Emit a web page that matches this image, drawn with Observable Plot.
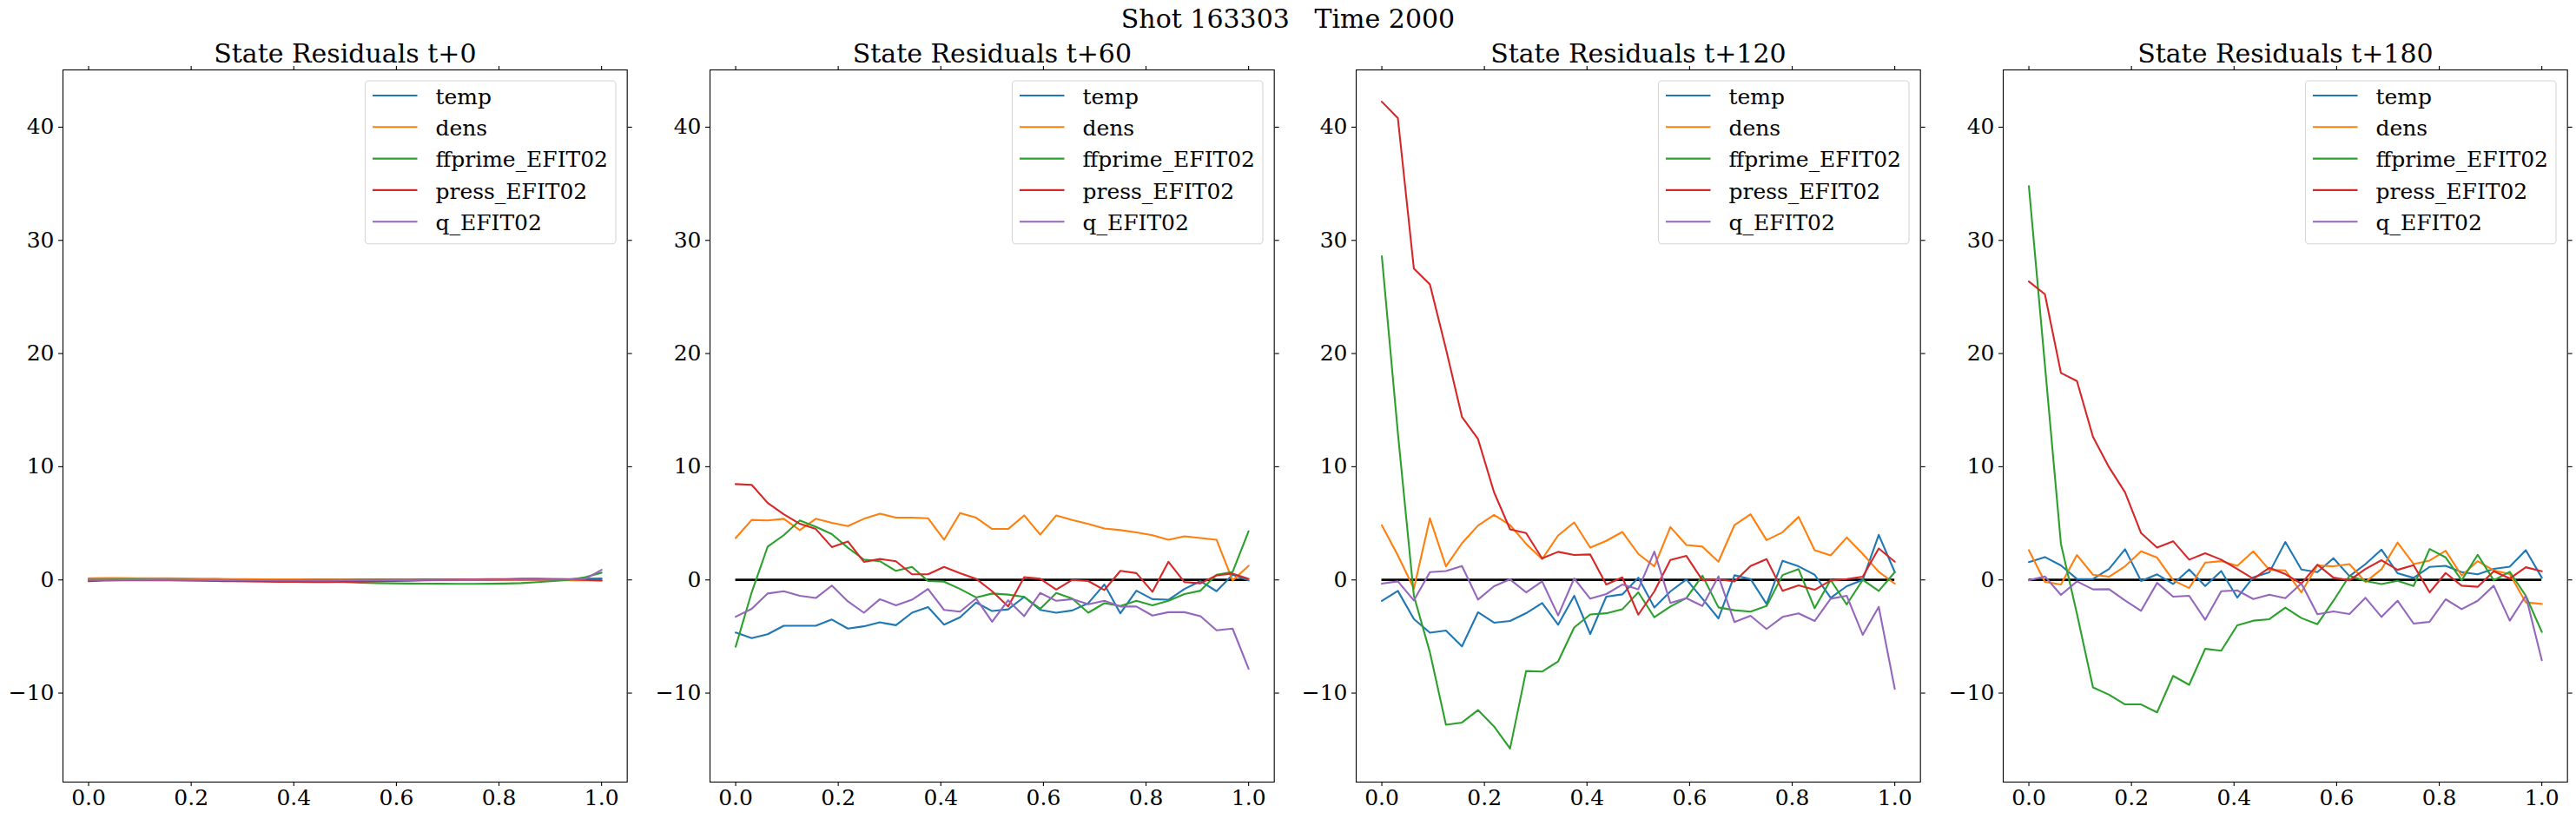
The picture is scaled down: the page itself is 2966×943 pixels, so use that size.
<!DOCTYPE html>
<html><head><meta charset="utf-8">
<script src="https://cdn.jsdelivr.net/npm/d3@7"></script>
<script src="https://cdn.jsdelivr.net/npm/@observablehq/plot@0.6"></script>
<style>
body{margin:0;background:#fff;}
#fig{position:relative;width:2966px;height:943px;overflow:hidden;background:#fff;font-family:"DejaVu Serif",serif;}
#sup{position:absolute;left:0;width:2966px;top:7px;text-align:center;font-size:30px;line-height:30px;white-space:pre;color:#000;z-index:5;}
.panel{position:absolute;top:0;}
</style></head><body>
<div id="fig"><div id="sup">Shot 163303   Time 2000</div></div>
<script>
const rho = [0,0.03125,0.0625,0.09375,0.125,0.15625,0.1875,0.21875,0.25,0.28125,0.3125,0.34375,0.375,0.40625,0.4375,0.46875,0.5,0.53125,0.5625,0.59375,0.625,0.65625,0.6875,0.71875,0.75,0.78125,0.8125,0.84375,0.875,0.90625,0.9375,0.96875,1];
const names = ["temp","dens","ffprime_EFIT02","press_EFIT02","q_EFIT02"];
const colors = ["#1f77b4","#ff7f0e","#2ca02c","#d62728","#9467bd"];
const titles = ["State Residuals t+0","State Residuals t+60","State Residuals t+120","State Residuals t+180"];
const xTicks = [0,0.2,0.4,0.6,0.8,1.0];
const yTicks = [-10,0,10,20,30,40];

const t0_temp = [0.05,0.06,0.06,0.05,0.05,0.05,0.04,0.03,0.04,0.03,0.02,0.02,0.02,0.01,0.01,0.02,0.03,0.03,0.02,0.01,0.01,0.0,0.01,0.02,0.03,0.04,0.05,0.05,0.06,0.07,0.08,0.1,0.12];
const t0_dens = [0.15,0.16,0.16,0.15,0.15,0.14,0.12,0.1,0.1,0.08,0.07,0.06,0.05,0.05,0.04,0.03,0.03,0.02,0.02,0.02,0.01,0.0,0.0,0.0,0.0,0.0,-0.01,-0.02,-0.02,-0.03,-0.03,-0.04,-0.05];
const t0_ffprime = [0.0,0.02,0.03,0.03,0.02,0.01,0.0,-0.02,-0.03,-0.04,-0.05,-0.06,-0.08,-0.1,-0.12,-0.15,-0.2,-0.25,-0.28,-0.3,-0.32,-0.33,-0.34,-0.35,-0.35,-0.34,-0.32,-0.28,-0.2,-0.1,0.02,0.25,0.64];
const t0_press = [-0.12,-0.05,-0.04,-0.03,-0.03,-0.04,-0.06,-0.08,-0.1,-0.12,-0.14,-0.16,-0.17,-0.18,-0.2,-0.2,-0.18,-0.15,-0.12,-0.1,-0.07,-0.04,-0.01,0.02,0.05,0.07,0.08,0.1,0.1,0.08,0.05,0.0,-0.05];
const t0_q = [0.0,0.0,0.0,0.0,0.01,0.01,0.0,0.0,-0.01,-0.01,-0.02,-0.02,-0.03,-0.03,-0.03,-0.03,-0.02,-0.02,-0.02,-0.01,-0.01,0.0,0.0,0.0,0.01,0.02,0.02,0.03,0.03,0.04,0.05,0.1,0.89];

const t60_temp = [-4.65,-5.15,-4.8,-4.05,-4.05,-4.05,-3.5,-4.3,-4.1,-3.75,-4.0,-2.9,-2.4,-3.95,-3.3,-2.0,-2.75,-2.6,-1.5,-2.65,-2.9,-2.7,-2.05,-0.4,-2.95,-0.95,-1.7,-1.75,-0.8,-0.1,-1.0,0.45,-0.05];
const t60_dens = [3.7,5.3,5.25,5.4,4.4,5.4,5.05,4.75,5.4,5.85,5.5,5.5,5.45,3.55,5.9,5.5,4.5,4.5,5.7,4.0,5.7,5.3,4.95,4.55,4.4,4.2,3.95,3.55,3.85,3.7,3.55,-0.05,1.25];
const t60_ffprime = [-5.9,-1.1,2.95,3.95,5.25,4.7,4.05,2.85,1.8,1.65,0.8,1.15,-0.1,-0.15,-0.8,-1.55,-1.2,-1.3,-1.5,-2.55,-1.15,-1.65,-2.9,-2.05,-2.3,-1.85,-2.25,-1.85,-1.25,-0.95,0.45,0.7,4.3];
const t60_press = [8.47,8.4,6.8,5.8,4.96,4.5,2.9,3.4,1.6,1.85,1.65,0.5,0.5,1.15,0.6,0.1,-1.0,-2.35,0.25,0.1,-0.85,0.0,-0.1,-0.9,0.8,0.6,-1.05,1.6,-0.2,-0.3,0.4,0.55,0.1];
const t60_q = [-3.25,-2.55,-1.2,-1.0,-1.4,-1.6,-0.5,-1.9,-2.9,-1.7,-2.25,-1.75,-0.8,-2.65,-2.8,-1.65,-3.7,-1.8,-3.2,-1.15,-1.85,-1.7,-2.15,-1.85,-2.35,-2.35,-3.15,-2.85,-2.85,-3.2,-4.45,-4.3,-7.85];

const t120_temp = [-1.86,-0.97,-3.45,-4.67,-4.47,-5.87,-2.86,-3.78,-3.63,-2.94,-2.04,-3.96,-1.4,-4.78,-1.48,-1.28,0.2,-2.43,-1.02,0.05,-1.66,-3.4,0.41,0.08,-2.12,1.69,1.2,0.46,-1.58,-0.56,0.0,3.98,0.69];
const t120_dens = [4.83,2.17,-0.77,5.44,1.2,3.24,4.8,5.75,4.85,3.19,1.84,3.93,5.08,2.86,3.45,4.24,2.3,1.2,4.67,3.09,2.94,1.61,4.85,5.8,3.52,4.21,5.57,2.63,2.17,3.75,2.3,0.72,-0.33];
const t120_ffprime = [28.6,13.0,-1.4,-6.4,-12.8,-12.6,-11.5,-12.95,-14.9,-8.05,-8.1,-7.2,-4.2,-3.05,-2.95,-2.6,-1.1,-3.3,-2.35,-1.6,0.38,-2.43,-2.68,-2.8,-2.3,0.43,0.95,-2.5,0.0,-2.17,0.0,-0.97,0.69];
const t120_press = [42.25,40.8,27.5,26.1,20.4,14.4,12.45,7.75,4.47,4.14,1.9,2.48,2.2,2.25,-0.4,0.23,-3.07,-1.02,1.76,2.12,-0.03,0.05,-0.13,1.23,1.84,-0.97,-0.49,-0.87,-0.05,0.08,0.28,2.78,1.61];
const t120_q = [-0.33,-0.13,-1.81,0.69,0.79,1.23,-1.74,-0.56,0.05,-1.1,-0.13,-3.14,0.13,-1.66,-1.25,-0.41,-0.82,2.5,-2.04,-1.61,-2.3,0.31,-3.73,-3.17,-4.34,-3.27,-2.96,-3.63,-1.66,-1.4,-4.85,-2.38,-9.63];

const t180_temp = [1.58,2.02,1.28,0.08,0.08,0.97,2.71,-0.1,0.49,-0.36,0.92,-0.54,0.79,-1.56,0.23,0.66,3.35,0.92,0.69,1.92,0.33,1.4,2.68,0.59,0.18,1.15,1.25,0.69,0.49,0.97,1.17,2.63,0.2];
const t180_dens = [2.63,-0.18,-0.41,2.2,0.46,0.28,1.2,2.53,1.97,-0.03,-0.72,1.53,1.66,1.25,2.53,0.89,0.84,-1.1,1.28,1.2,1.4,-0.18,0.95,3.3,1.4,1.71,2.58,0.38,1.66,0.84,0.51,-1.99,-2.12];
const t180_ffprime = [34.8,19.0,3.19,-3.0,-9.5,-10.14,-11.0,-11.0,-11.7,-8.48,-9.27,-6.08,-6.26,-4.01,-3.6,-3.47,-2.45,-3.37,-3.91,-1.84,0.36,-0.1,-0.36,-0.08,-0.54,2.73,1.99,-0.03,2.22,-0.03,0.72,-1.4,-4.6];
const t180_press = [26.37,25.24,18.29,17.57,12.64,9.96,7.74,4.14,2.86,3.42,1.79,2.35,1.79,0.97,0.1,1.07,0.51,-0.33,1.35,0.2,-0.03,0.97,1.74,0.89,1.3,-1.1,0.61,-0.51,-0.61,0.77,0.13,1.12,0.77];
const t180_q = [-0.03,0.31,-1.33,-0.13,-0.84,-0.82,-1.81,-2.73,-0.26,-1.48,-1.4,-3.52,-1.0,-0.92,-1.69,-1.3,-1.61,-0.31,-3.04,-2.78,-3.01,-1.58,-3.27,-1.84,-3.86,-3.7,-1.71,-2.58,-1.84,-0.51,-3.6,-1.4,-7.1];

const panels = [
  [t0_temp,t0_dens,t0_ffprime,t0_press,t0_q],
  [t60_temp,t60_dens,t60_ffprime,t60_press,t60_q],
  [t120_temp,t120_dens,t120_ffprime,t120_press,t120_q],
  [t180_temp,t180_dens,t180_ffprime,t180_press,t180_q]
];

const ML = 72, MR = 12, MT = 80, MB = 43, AW = 649.7, STEP = 744.7;
const fig = document.getElementById("fig");

panels.forEach((series, p) => {
  const rows = [];
  series.forEach((vals, k) => vals.forEach((v, j) => rows.push({x: rho[j], y: v, s: names[k]})));
  const svg = Plot.plot({
    width: ML + AW + MR, height: 943,
    marginLeft: ML, marginRight: MR, marginTop: MT, marginBottom: MB,
    style: {fontFamily: "DejaVu Serif", fontSize: "25px", background: "transparent", color: "black", overflow: "visible"},
    x: {domain: [-0.05, 1.05]},
    y: {domain: [-17.86, 45.06]},
    color: {domain: names, range: colors},
    marks: [
      Plot.ruleY([0], {x1: rho[0], x2: rho[rho.length - 1], stroke: "black", strokeWidth: 2.8}),
      Plot.line(rows, {x: "x", y: "y", z: "s", stroke: "s", strokeWidth: 2.1}),
      Plot.frame({stroke: "black", strokeWidth: 1.1}),
      Plot.axisX(xTicks, {anchor: "bottom", tickSize: 5, tickPadding: 4, tickFormat: d3.format(".1f"), label: null, strokeWidth: 1.1}),
      Plot.axisX(xTicks, {anchor: "top", tickSize: 5, tickFormat: () => "", label: null, strokeWidth: 1.1}),
      Plot.axisY(yTicks, {anchor: "left", tickSize: 5, tickPadding: 5, label: null, strokeWidth: 1.1}),
      Plot.axisY(yTicks, {anchor: "right", tickSize: 5, tickFormat: () => "", label: null, strokeWidth: 1.1}),
      Plot.text([titles[p]], {frameAnchor: "top", dy: -8, lineAnchor: "bottom", fontSize: 30})
    ]
  });
  // legend
  const bw = 288.5, bh = 187.7;
  const bx = ML + AW - 12.7 - bw, by = MT + 13;
  const g = d3.select(svg).append("g").attr("font-family", "DejaVu Serif").attr("font-size", 25).attr("text-anchor", "start");
  g.append("rect").attr("x", bx).attr("y", by).attr("width", bw).attr("height", bh)
    .attr("rx", 4).attr("fill", "white").attr("fill-opacity", 0.8)
    .attr("stroke", "#d6d6d6").attr("stroke-width", 1.1);
  names.forEach((n, k) => {
    const cy = by + 17 + k * 36.3;
    g.append("line").attr("x1", bx + 8.5).attr("x2", bx + 60).attr("y1", cy).attr("y2", cy)
      .attr("stroke", colors[k]).attr("stroke-width", 2.1);
    g.append("text").attr("x", bx + 81).attr("y", cy).attr("dy", "0.385em").attr("fill", "black")
      .attr("text-anchor", "start").text(n);
  });
  svg.classList.add("panel");
  svg.style.left = (p * STEP) + "px";
  svg.style.position = "absolute";
  svg.style.top = "0px";
  fig.appendChild(svg);
});
</script>
</body></html>
